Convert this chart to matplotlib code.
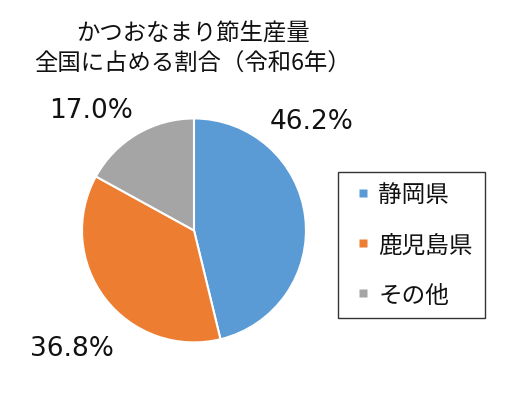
import matplotlib
matplotlib.use("Agg")
import matplotlib.pyplot as plt
from matplotlib.lines import Line2D

plt.rcParams['font.family'] = ['Noto Sans CJK JP', 'DejaVu Sans']

labels = ["静岡県", "鹿児島県", "その他"]
shares = [46.2, 36.8, 17.0]
colors = ["#5B9BD5", "#ED7D31", "#A5A5A5"]
title = "かつおなまり節生産量\n全国に占める割合（令和6年）"

# where Excel put the value labels (data coords, radius = 1)
label_pos = [(1.054, 0.978), (-1.089, -1.049), (-0.92, 1.076)]

fig = plt.figure(figsize=(5.27, 4.06), dpi=100)
ax = fig.add_axes([0.1556, 0.154, 0.425, 0.552])

ax.pie(shares, colors=colors, startangle=90, counterclock=False,
       wedgeprops=dict(edgecolor="white", linewidth=1.5))
ax.set_xlim(-1, 1)
ax.set_ylim(-1, 1)
ax.set_aspect("equal")

for v, (x, y) in zip(shares, label_pos):
    ax.text(x, y, f"{v:.1f}%", ha="center", va="center", fontsize=19,
            family="DejaVu Sans", color="#111111")

fig.text(0.366, 0.879, title, ha="center", va="center", fontsize=16.8,
         linespacing=1.45, color="#111111")

handles = [Line2D([], [], linestyle="none", marker="s", markersize=6,
                  markerfacecolor=c, markeredgecolor="none") for c in colors]
leg = fig.legend(handles, labels, loc="center", bbox_to_anchor=(0.78, 0.394),
                 fontsize=17, frameon=True, fancybox=False, edgecolor="black",
                 handlelength=1.17, handletextpad=0.05,
                 labelspacing=1.15, borderpad=0.5, borderaxespad=0)
leg.get_frame().set_linewidth(1.0)
for t in leg.get_texts():
    t.set_color("#111111")

fig.savefig("out.png", dpi=100)
